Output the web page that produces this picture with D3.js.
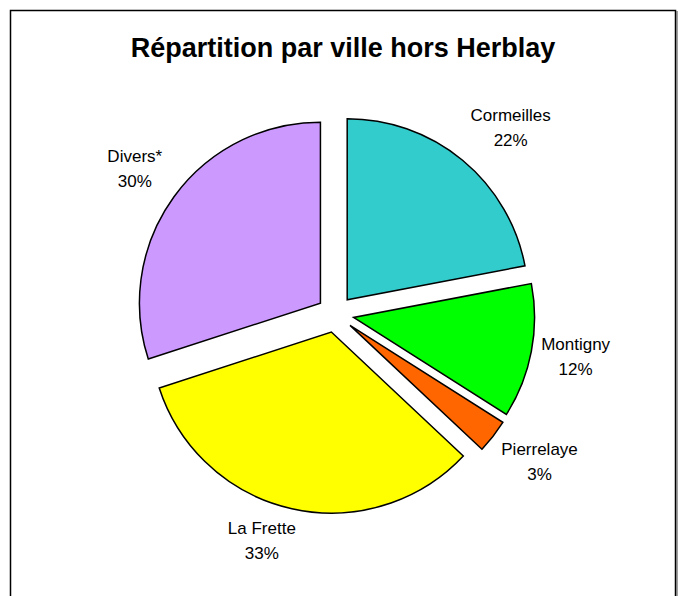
<!DOCTYPE html>
<html>
<head>
<meta charset="utf-8">
<script src="https://cdn.jsdelivr.net/npm/d3@7"></script>
<style>
  html, body { margin: 0; padding: 0; background: #fff; }
  svg { display: block; }
  text { font-family: "Liberation Sans", Arial, sans-serif; fill: #000; }
</style>
</head>
<body>
<svg class="chart" width="678" height="596"></svg>
<script>
// donnees
var titre = "Répartition par ville hors Herblay";
var villes = ["Cormeilles", "Montigny", "Pierrelaye", "La Frette", "Divers*"];
var parts = [22, 12, 3, 33, 30];

var PieChart = (function () {

  return {
    Plot : function() {
      //Setting
      var sWidth = 678, sHeight = 596,
          cx = 335.4, cy = 314,
          radius = 181,
          explode = 18.5,
          labelRadius = 248,
          // petits decalages des etiquettes (degres, px)
          labelNudgeAngle = [3.6, -0.7, -1.9, 5.4, 0],
          labelNudgeRadius = [8, -4, 4, -10, 0],
          chart = d3.select("svg.chart");

      var color = d3.scaleOrdinal()
        .domain(villes)
        .range(["#33cccc", "#00ff00", "#ff6600", "#ffff00", "#cc99ff"]);

      var total = d3.sum(parts);

      var pie = d3.pie().sort(null).value(function(d) { return d.v; });
      var arc = d3.arc().innerRadius(0).outerRadius(radius);

      var rows = villes.map(function(v, i) { return {ville: v, v: parts[i], i: i}; });
      var arcs = pie(rows);

      // cadre
      chart.append("rect")
        .attr("x", 10.5).attr("y", 10.5)
        .attr("width", 665).attr("height", sHeight + 20)
        .attr("fill", "none")
        .attr("stroke", "#000")
        .attr("stroke-width", 1.5);
      chart.append("line")
        .attr("x1", 677).attr("x2", 677)
        .attr("y1", 11).attr("y2", sHeight)
        .attr("stroke", "#444").attr("stroke-width", 1);

      chart.append("text")
        .attr("x", 343).attr("y", 56.5)
        .attr("text-anchor", "middle")
        .style("font-size", "27px")
        .style("font-weight", "bold")
        .text(titre);

      var g = chart.append("g").attr("transform", "translate(" + cx + "," + cy + ")");

      g.selectAll("path")
        .data(arcs)
        .enter()
        .append("path")
        .attr("d", arc)
        .attr("transform", function(d) {
          var a = (d.startAngle + d.endAngle) / 2;
          return "translate(" + (explode * Math.sin(a)) + "," + (-explode * Math.cos(a)) + ")";
        })
        .attr("fill", function(d) { return color(d.data.ville); })
        .attr("stroke", "#000")
        .attr("stroke-width", 1.5)
        .attr("stroke-linejoin", "miter");

      var labels = g.selectAll("g.label")
        .data(arcs)
        .enter()
        .append("g")
        .attr("class", "label")
        .attr("transform", function(d) {
          var a = (d.startAngle + d.endAngle) / 2 + labelNudgeAngle[d.data.i] * Math.PI / 180,
              r = labelRadius + labelNudgeRadius[d.data.i];
          return "translate(" + (r * Math.sin(a)) + "," + (-r * Math.cos(a)) + ")";
        });

      labels.append("text")
        .attr("text-anchor", "middle")
        .attr("y", -6.5)
        .style("font-size", "17px")
        .text(function(d) { return d.data.ville; });

      labels.append("text")
        .attr("text-anchor", "middle")
        .attr("y", 18.5)
        .style("font-size", "17px")
        .text(function(d) { return Math.round(d.data.v / total * 100) + "%"; });
    }
  }
})();

PieChart.Plot();
</script>
</body>
</html>
